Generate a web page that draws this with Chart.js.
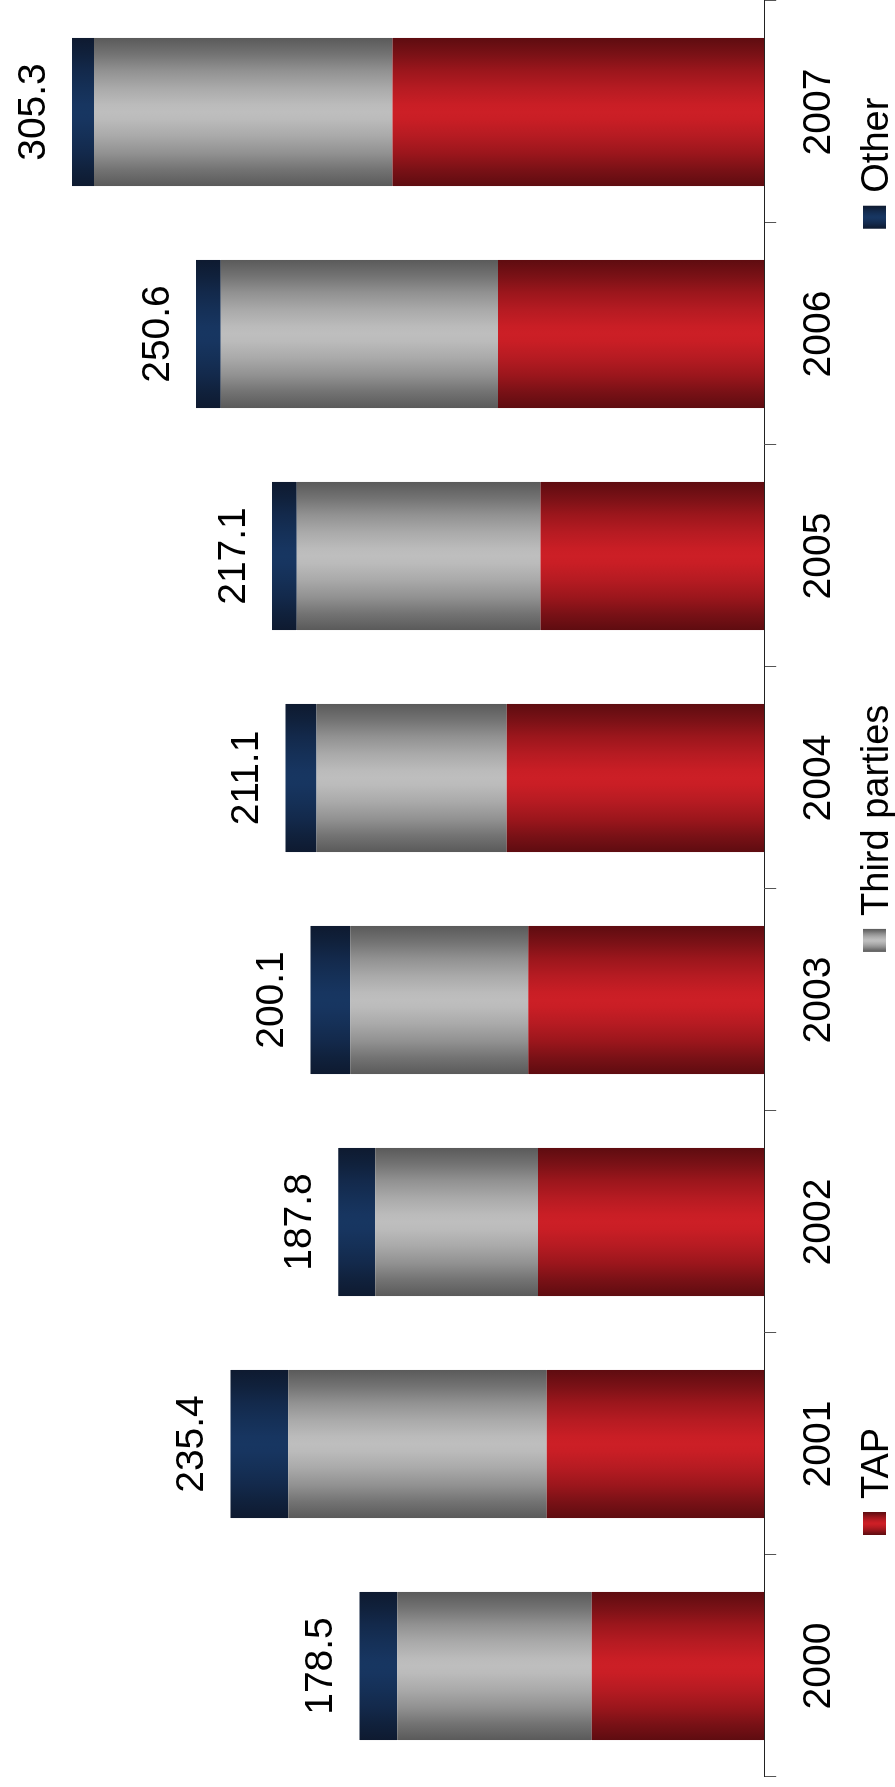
<!DOCTYPE html>
<html>
<head>
<meta charset="utf-8">
<title>TAP, third parties and other</title>
<script src="https://cdn.jsdelivr.net/npm/chart.js@4/dist/chart.umd.min.js"></script>
<style>
  html, body { margin: 0; padding: 0; background: #fff; overflow: hidden; }
  body { width: 895px; height: 1787px; position: relative; }
  /* The column chart is laid out landscape and turned a quarter turn so it reads bottom-to-top */
  #frame {
    position: absolute; left: 0; top: 0;
    width: 1787px; height: 895px;
    transform-origin: 0 0;
    transform: translate(0, 1787px) rotate(-90deg);
  }
  canvas { display: block; }
</style>
</head>
<body>
<div id="frame"><canvas id="chart" width="1787" height="895"></canvas></div>
<script>
// Categories
const YEARS = ['2000', '2001', '2002', '2003', '2004', '2005', '2006', '2007'];

// Series values (stacked bottom to top)
const TAP           = [76.1, 95.9, 99.8, 104.0, 113.5, 98.6, 117.4, 163.9];
const THIRD_PARTIES = [85.7, 114.0, 71.7, 78.5, 83.9, 107.5, 122.2, 131.7];
const OTHER         = [16.7, 25.5, 16.3, 17.6, 13.7, 11.0, 11.0, 9.7];

const SERIES_NAMES = ['TAP', 'Third parties', 'Other'];

// Cylinder shading: edge colour and centre colour per series
const SHADES = {
  red:  { edge: [94, 12, 16],  mid: [204, 31, 38] },
  grey: { edge: [90, 90, 90],  mid: [190, 190, 190] },
  blue: { edge: [14, 26, 48],  mid: [23, 54, 97] }
};

const FONT = '"Liberation Sans", Arial, Helvetica, sans-serif';
const FONT_SIZE = 39;
const BAR_PCT = 0.667;

// Position along the bar width -> blend toward the centre colour
const SHADE_STOPS = [
  [0, 0], [0.11, 0.25], [0.22, 0.55], [0.34, 0.8], [0.45, 0.97], [0.5, 1],
  [0.55, 0.97], [0.66, 0.8], [0.78, 0.55], [0.89, 0.25], [1, 0]
];

function mix(a, b, t) {
  const c = a.map((v, i) => Math.round(v + (b[i] - v) * t));
  return `rgb(${c[0]},${c[1]},${c[2]})`;
}

function cylinder(ctx2d, shade, x0, x1) {
  const g = ctx2d.createLinearGradient(x0, 0, x1, 0);
  SHADE_STOPS.forEach(([p, t]) => g.addColorStop(p, mix(shade.edge, shade.mid, t)));
  return g;
}

function barFill(shade) {
  return (context) => {
    const chart = context.chart;
    const xs = chart.scales && chart.scales.x;
    if (!chart.chartArea || !xs || context.type !== 'data') {
      return mix(shade.edge, shade.mid, 1);
    }
    const cx = xs.getPixelForValue(context.dataIndex);
    const half = (xs.width / YEARS.length) * BAR_PCT / 2;
    return cylinder(chart.ctx, shade, cx - half, cx + half);
  };
}

// Stack totals written above each column
const totalsPlugin = {
  id: 'stackTotals',
  afterDatasetsDraw(chart) {
    const ctx = chart.ctx;
    const xs = chart.scales.x;
    const ys = chart.scales.y;
    ctx.save();
    ctx.font = `${FONT_SIZE}px ${FONT}`;
    ctx.fillStyle = '#000';
    ctx.textAlign = 'center';
    ctx.textBaseline = 'alphabetic';
    YEARS.forEach((_, i) => {
      const total = chart.data.datasets.reduce((s, d) => s + d.data[i], 0);
      const px = xs.getPixelForValue(i);
      const top = ys.getPixelForValue(total);
      ctx.fillText(total.toFixed(1), px, top - 27);
    });
    ctx.restore();
  }
};

// Legend row under the axis
const legendRow = {
  id: 'legendRow',
  afterDraw(chart) {
    const ctx = chart.ctx;
    const box = 23, gapText = 13, gapItem = 476;
    const cy = 874.5;
    let x = 252;
    ctx.save();
    ctx.font = `38px ${FONT}`;
    ctx.fillStyle = '#000';
    ctx.textBaseline = 'alphabetic';
    ctx.textAlign = 'left';
    chart.data.datasets.forEach((ds) => {
      ctx.fillStyle = cylinder(ctx, ds.shade, x, x + box);
      ctx.fillRect(x, cy - box / 2, box, box);
      ctx.fillStyle = '#000';
      const tx = x + box + gapText;
      ctx.fillText(ds.label, tx, cy + 13.5);
      x = tx + ctx.measureText(ds.label).width + gapItem;
    });
    ctx.restore();
  }
};

const datasets = [
  { label: SERIES_NAMES[0], data: TAP, shade: SHADES.red },
  { label: SERIES_NAMES[1], data: THIRD_PARTIES, shade: SHADES.grey },
  { label: SERIES_NAMES[2], data: OTHER, shade: SHADES.blue }
].map(d => Object.assign(d, { backgroundColor: barFill(d.shade), borderWidth: 0 }));

new Chart(document.getElementById('chart'), {
  type: 'bar',
  data: { labels: YEARS, datasets },
  options: {
    responsive: false,
    animation: false,
    devicePixelRatio: 1,
    layout: { padding: { left: 10, right: 1, top: 0, bottom: 32 } },
    datasets: { bar: { categoryPercentage: 1, barPercentage: BAR_PCT } },
    plugins: { legend: { display: false }, tooltip: { enabled: false } },
    scales: {
      x: {
        stacked: true,
        offset: true,
        grid: {
          display: true, offset: true, drawOnChartArea: false,
          drawTicks: true, tickLength: 12, color: '#555', lineWidth: 1
        },
        border: { display: true, color: '#222', width: 1 },
        ticks: {
          color: '#000', padding: 20, maxRotation: 0, autoSkip: false,
          font: { family: FONT, size: FONT_SIZE }
        }
      },
      y: { stacked: true, display: false, min: 0, max: 337 }
    }
  },
  plugins: [totalsPlugin, legendRow]
});
</script>
</body>
</html>
